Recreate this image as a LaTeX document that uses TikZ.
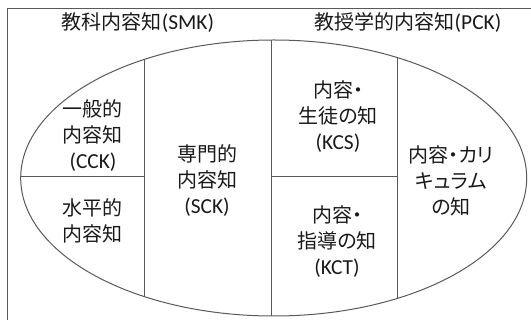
\documentclass[tikz,border=0pt]{standalone}
\usepackage{fontspec}
\setmainfont{Carlito}[Scale=1.07]
\newfontfamily\cjk{Noto Sans CJK JP}[RawFeature=+palt]
\begin{document}
\begin{tikzpicture}[x=1pt,y=-1pt,
  line/.style={draw=black!65, line width=1pt},
  lbl/.style={align=center, font=\fontsize{20}{26}\selectfont, inner sep=0pt, text=black!90}]
\clip (0,0) rectangle (531,320);
\draw[line] (7.5,9) rectangle (560,340);
\coordinate (c) at (273.7,178);
\begin{scope}
  \clip (c) ellipse [x radius=253, y radius=138];
  \draw[line] (144,0) -- (144,330);
  \draw[line] (271,0) -- (271,330);
  \draw[line] (397,0) -- (397,330);
  \draw[line] (0,177) -- (144,177);
  \draw[line] (271,177) -- (397,177);
\end{scope}
\draw[line] (c) ellipse [x radius=253, y radius=138];
\node[lbl] (smk) at (138,23) {{\cjk 教科内容知}(SMK)};
\node[lbl] (pck) at (408,23) {{\cjk 教授学的内容知}(PCK)};
\node[lbl] (cck) at (93,136) {{\cjk 一般的}\\{\cjk 内容知}\\(CCK)};
\node[lbl] (hck) at (93,221) {{\cjk 水平的}\\{\cjk 内容知}};
\node[lbl] (sck) at (207,181) {{\cjk 専門的}\\{\cjk 内容知}\\(SCK)};
\node[lbl] (kcs) at (338,117) {{\cjk 内容・}\\{\cjk 生徒の知}\\(KCS)};
\node[lbl] (kct) at (337,242) {{\cjk 内容・}\\{\cjk 指導の知}\\(KCT)};
\node[lbl] (kcc) at (451,181) {{\cjk 内容・カリ}\\{\cjk キュラム}\\{\cjk の知}};
\end{tikzpicture}
\end{document}
